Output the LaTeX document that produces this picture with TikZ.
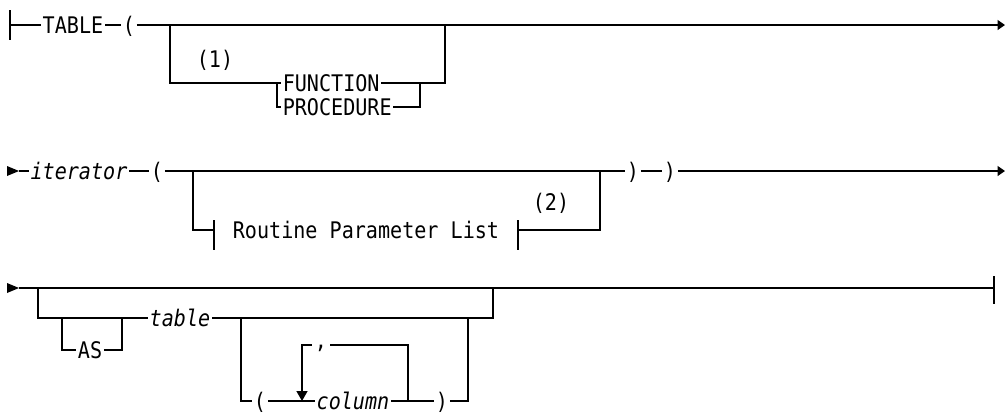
\documentclass[tikz,border=0pt]{standalone}
\usepackage{fontspec}
\newfontfamily\synfont[FakeStretch=0.88]{DejaVu Sans Mono}
\usetikzlibrary{arrows.meta}

\begin{document}
	\begin{tikzpicture}[
		x=0.02cm, y=-0.02cm,
		line width=0.8pt,
		every node/.style={
			inner xsep=0.6pt, inner ysep=0pt,
			text height=9.5pt, text depth=0pt,
			font=\synfont\fontsize{13}{15}\selectfont
		},
		var/.style={font=\synfont\fontsize{13}{15}\selectfont\itshape},
		frag/.style={inner xsep=0.36cm},
		sep/.style={anchor=north, inner xsep=1.5pt, text height=1.6pt, text depth=2pt},
		endarr/.style={-{Triangle[length=0.15cm,width=0.2cm]}},
		looparr/.style={-{Triangle[length=0.2cm,width=0.22cm]}}
		]
		
		\useasboundingbox (0,0) rectangle (1005,413);
		
		% first line
		\coordinate (s1) at (10,25);
		\coordinate (e1) at (1005,25);
		\coordinate (j1a) at (170,25);
		\coordinate (j1b) at (445,25);
		\coordinate (k1a) at (277,83);
		\coordinate (k1b) at (420,83);
		\node (tbl) at (73,25) {TABLE};
		\node (lp1) at (129,25) {(};
		\node (n1) at (215,59) {(1)};
		\node (fn) [anchor=west] at (281,83) {FUNCTION};
		\node (pr) [anchor=west] at (281,107) {PROCEDURE};
		
		\draw (s1) ++(0,-15) -- ++(0,30);
		\draw (s1) -- (tbl.west);
		\draw (tbl.east) -- (lp1.west);
		\draw[endarr] (lp1.east) -- (e1);
		\draw (j1a) |- (fn.west);
		\draw (k1a) |- (pr.west);
		\draw (fn.east) -- (k1b) -| (j1b);
		\draw (pr.east) -| (k1b);
		
		% second line
		\coordinate (s2) at (19,171);
		\coordinate (e2) at (1005,171);
		\coordinate (j2a) at (193,171);
		\coordinate (j2b) at (600,171);
		\node[var] (itr) at (79,171) {iterator};
		\node (lp2) at (157,171) {(};
		\node (rp2a) at (633,171) {)};
		\node (rp2b) at (670,171) {)};
		\node[frag] (rpl) at (366,230) {Routine Parameter List};
		\node (n2) at (551,202) {(2)};
		
		\fill (s2) -- ++(-12,-5) -- ++(0,10) -- cycle;
		\draw (s2) -- (itr.west);
		\draw (itr.east) -- (lp2.west);
		\draw (lp2.east) -- (rp2a.west);
		\draw (rp2a.east) -- (rp2b.west);
		\draw[endarr] (rp2b.east) -- (e2);
		\draw (j2a) |- (rpl.west);
		\draw (rpl.east) -| (j2b);
		\draw (rpl.west) ++(0,-10) -- ++(0,30);
		\draw (rpl.east) ++(0,-10) -- ++(0,30);
		
		% third line
		\coordinate (s3) at (19,288);
		\coordinate (e3) at (994,288);
		\coordinate (j3a) at (38,288);
		\coordinate (j3b) at (493,288);
		\coordinate (k3a) at (62,318);
		\coordinate (k3b) at (122,318);
		\coordinate (k3c) at (241,318);
		\coordinate (k3d) at (468,318);
		\coordinate (l3a) at (302,401);
		\coordinate (l3b) at (408,401);
		\node (as) at (90,350) {AS};
		\node[var] (tab) at (180,318) {table};
		\node (lp3) at (260,401) {(};
		\node[var] (col) at (353,401) {column};
		\node (rp3) at (442,401) {)};
		\node[sep] (cm) at (321,345) {,};
		
		\fill (s3) -- ++(-12,-5) -- ++(0,10) -- cycle;
		\draw (s3) -- (e3);
		\draw (e3) ++(0,-12) -- ++(0,28);
		\draw[line width=1.3pt] (j3b) ++(5,0) -- ++(24,0);
		\draw (j3a) |- (tab.west);
		\draw (k3a) |- (as.west);
		\draw (as.east) -| (k3b);
		\draw (tab.east) -| (j3b);
		\draw (k3c) |- (lp3.west);
		\draw (lp3.east) -- (col.west);
		\draw (col.east) -- (rp3.west);
		\draw (rp3.east) -| (k3d);
		\draw[looparr] (cm.north west) -| (l3a);
		\draw (cm.north east) -| (l3b);
	\end{tikzpicture}
\end{document}
